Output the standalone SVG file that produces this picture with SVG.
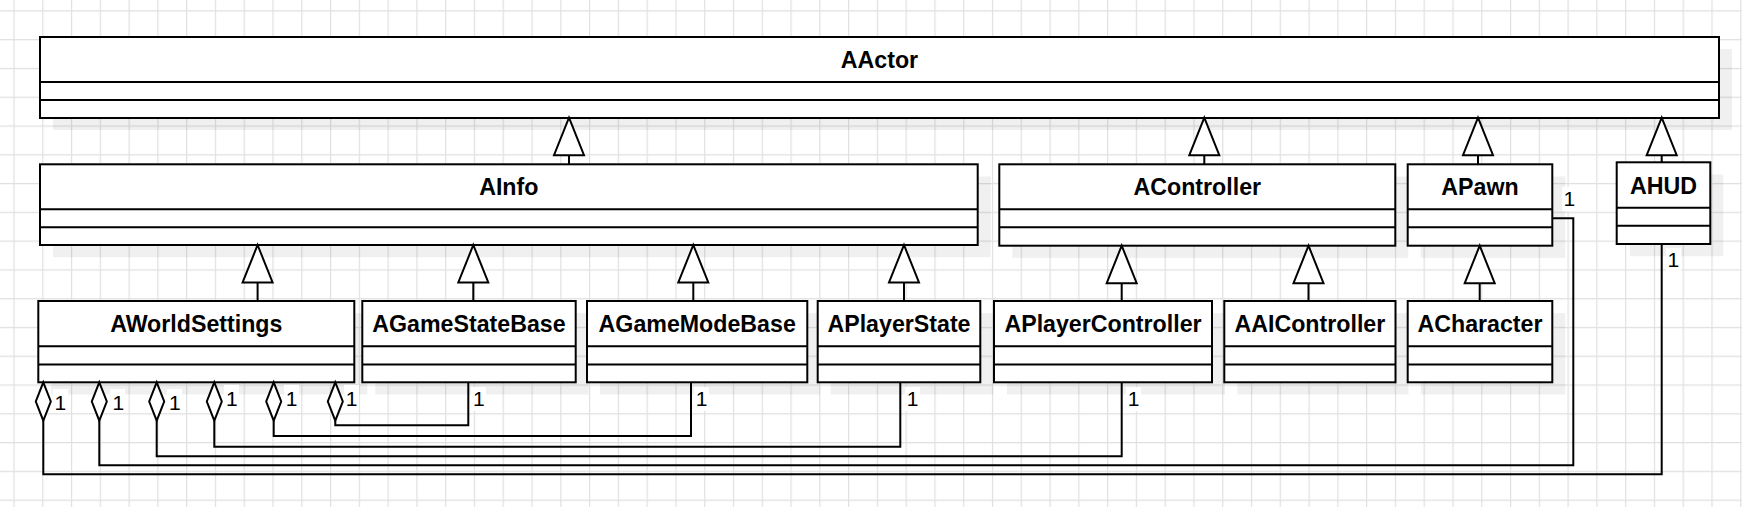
<svg xmlns="http://www.w3.org/2000/svg" xmlns:xlink="http://www.w3.org/1999/xlink" width="1742" height="507" viewBox="0 0 1742 507">
<defs>
<pattern id="grid" patternUnits="userSpaceOnUse" x="13.4" y="10.3" width="28.78" height="28.78">
<path d="M0,0 H28.78 M0,0 V28.78" fill="none" stroke="#e0e0e0" stroke-width="2.4"/>
</pattern>
<path id="tri" d="M0,0 L15,37.5 L-15,37.5 Z"/>
<path id="dia" d="M0,0 L7.5,19.2 L0,38.4 L-7.5,19.2 Z"/>
</defs>
<style>
.bg{fill:#fff}
.sh{fill:#000;fill-opacity:0.06}
.box{fill:#fff;stroke:#000;stroke-width:2}
.div{stroke:#000;stroke-width:2;fill:none}
.t{font-family:"Liberation Sans",Arial,Helvetica,sans-serif;font-weight:bold;font-size:23.2px;text-anchor:middle;fill:#000}
.edge{fill:none;stroke:#000;stroke-width:2}
.head{fill:#fff;stroke:#000;stroke-width:2}
.lbl{font-family:"Liberation Sans",Arial,Helvetica,sans-serif;font-size:21px;fill:#000}
.lb{fill:#fff}
</style>
<rect class="bg" x="0" y="0" width="1742" height="507"/>
<rect x="0" y="0" width="1742" height="507" fill="url(#grid)"/>

<g id="AActor">
<rect class="sh" x="53" y="49" width="1679" height="81"/>
<rect class="box" x="40" y="37" width="1679" height="81"/>
<path class="div" d="M40,82 H1719 M40,100 H1719"/>
<text class="t" x="879.5" y="67.5">AActor</text>
</g>

<g id="AInfo">
<rect class="sh" x="53" y="176.5" width="937.7" height="80.7"/>
<rect class="box" x="40" y="164.3" width="937.7" height="80.7"/>
<path class="div" d="M40,209.3 H977.7 M40,227.3 H977.7"/>
<text class="t" x="508.8" y="195.3">AInfo</text>
</g>

<g id="AController">
<rect class="sh" x="1012.3" y="176.5" width="396" height="81.4"/>
<rect class="box" x="999.3" y="164.3" width="396" height="81.4"/>
<path class="div" d="M999.3,209.3 H1395.3 M999.3,227.3 H1395.3"/>
<text class="t" x="1197.3" y="195.3">AController</text>
</g>

<g id="APawn">
<rect class="sh" x="1420.7" y="176.5" width="144.6" height="81.4"/>
<rect class="box" x="1407.7" y="164.3" width="144.6" height="81.4"/>
<path class="div" d="M1407.7,209.3 H1552.3 M1407.7,227.3 H1552.3"/>
<text class="t" x="1480" y="195.3">APawn</text>
</g>

<g id="AHUD">
<rect class="sh" x="1629.7" y="174.5" width="93.6" height="81.7"/>
<rect class="box" x="1616.7" y="162.3" width="93.6" height="81.7"/>
<path class="div" d="M1616.7,207.7 H1710.3 M1616.7,225.7 H1710.3"/>
<text class="t" x="1663.5" y="193.6">AHUD</text>
</g>

<g id="AWorldSettings">
<rect class="sh" x="51.3" y="313.2" width="316" height="81.3"/>
<rect class="box" x="38.3" y="301" width="316" height="81.3"/>
<path class="div" d="M38.3,346.3 H354.3 M38.3,364.5 H354.3"/>
<text class="t" x="196.3" y="332">AWorldSettings</text>
</g>

<g id="AGameStateBase">
<rect class="sh" x="375.3" y="313.2" width="213.4" height="81.3"/>
<rect class="box" x="362.3" y="301" width="213.4" height="81.3"/>
<path class="div" d="M362.3,346.3 H575.7 M362.3,364.5 H575.7"/>
<text class="t" x="469" y="332">AGameStateBase</text>
</g>

<g id="AGameModeBase">
<rect class="sh" x="600" y="313.2" width="220.3" height="81.3"/>
<rect class="box" x="587" y="301" width="220.3" height="81.3"/>
<path class="div" d="M587,346.3 H807.3 M587,364.5 H807.3"/>
<text class="t" x="697.2" y="332">AGameModeBase</text>
</g>

<g id="APlayerState">
<rect class="sh" x="830.7" y="313.2" width="162.6" height="81.3"/>
<rect class="box" x="817.7" y="301" width="162.6" height="81.3"/>
<path class="div" d="M817.7,346.3 H980.3 M817.7,364.5 H980.3"/>
<text class="t" x="899" y="332">APlayerState</text>
</g>

<g id="APlayerController">
<rect class="sh" x="1007" y="313.2" width="218" height="81.3"/>
<rect class="box" x="994" y="301" width="218" height="81.3"/>
<path class="div" d="M994,346.3 H1212 M994,364.5 H1212"/>
<text class="t" x="1103" y="332">APlayerController</text>
</g>

<g id="AAIController">
<rect class="sh" x="1237.3" y="313.2" width="171.2" height="81.3"/>
<rect class="box" x="1224.3" y="301" width="171.2" height="81.3"/>
<path class="div" d="M1224.3,346.3 H1395.5 M1224.3,364.5 H1395.5"/>
<text class="t" x="1309.9" y="332">AAIController</text>
</g>

<g id="ACharacter">
<rect class="sh" x="1420.7" y="313.2" width="144.6" height="81.3"/>
<rect class="box" x="1407.7" y="301" width="144.6" height="81.3"/>
<path class="div" d="M1407.7,346.3 H1552.3 M1407.7,364.5 H1552.3"/>
<text class="t" x="1480" y="332">ACharacter</text>
</g>

<g id="connectors">
<!-- inheritance -->
<path class="edge" d="M569,155 V164.3 M1204.3,155 V164.3 M1478,155 V164.3 M1661.7,155 V162.3"/>
<use href="#tri" class="head" x="569" y="117.7"/>
<use href="#tri" class="head" x="1204.3" y="117.7"/>
<use href="#tri" class="head" x="1478" y="117.7"/>
<use href="#tri" class="head" x="1661.7" y="117.7"/>
<path class="edge" d="M257.6,282.5 V301 M473.3,282.5 V301 M693.3,282.5 V301 M904,282.5 V301 M1121.7,283 V301 M1308.5,283 V301 M1479.7,283 V301"/>
<use href="#tri" class="head" x="257.6" y="245"/>
<use href="#tri" class="head" x="473.3" y="245"/>
<use href="#tri" class="head" x="693.3" y="245"/>
<use href="#tri" class="head" x="904" y="245"/>
<use href="#tri" class="head" x="1121.7" y="245.7"/>
<use href="#tri" class="head" x="1308.5" y="245.7"/>
<use href="#tri" class="head" x="1479.7" y="245.7"/>
<!-- aggregation -->
<path class="edge" d="M335.3,420.7 V425.3 H468.3 V382.3"/>
<path class="edge" d="M273.7,420.7 V436 H691 V382.3"/>
<path class="edge" d="M214.3,420.7 V446.7 H900.3 V382.3"/>
<path class="edge" d="M156.7,420.7 V456.3 H1121.7 V382.3"/>
<path class="edge" d="M99.3,420.7 V465.3 H1573.3 V218.3 H1552.3"/>
<path class="edge" d="M43.3,420.7 V474.3 H1661.7 V244"/>
<use href="#dia" class="head" x="43.3" y="382.3"/>
<use href="#dia" class="head" x="99.3" y="382.3"/>
<use href="#dia" class="head" x="156.7" y="382.3"/>
<use href="#dia" class="head" x="214.3" y="382.3"/>
<use href="#dia" class="head" x="273.7" y="382.3"/>
<use href="#dia" class="head" x="335.3" y="382.3"/>
<!-- multiplicity labels -->
<rect class="lb" x="53" y="389" width="15" height="24"/>
<text class="lbl" x="54.5" y="410">1</text>
<rect class="lb" x="110" y="389" width="15" height="24"/>
<text class="lbl" x="112.5" y="410">1</text>
<rect class="lb" x="167" y="389" width="15" height="24"/>
<text class="lbl" x="169" y="410">1</text>
<rect class="lb" x="224" y="385" width="15" height="24"/>
<text class="lbl" x="226" y="406">1</text>
<rect class="lb" x="284" y="385" width="15" height="24"/>
<text class="lbl" x="285.8" y="406">1</text>
<rect class="lb" x="344" y="385" width="15" height="24"/>
<text class="lbl" x="345.8" y="406">1</text>
<rect class="lb" x="471" y="387" width="15" height="24"/>
<text class="lbl" x="473" y="406">1</text>
<rect class="lb" x="694" y="387" width="15" height="24"/>
<text class="lbl" x="695.7" y="406">1</text>
<rect class="lb" x="905" y="387" width="15" height="24"/>
<text class="lbl" x="906.7" y="406">1</text>
<rect class="lb" x="1126" y="387" width="15" height="24"/>
<text class="lbl" x="1127.7" y="406">1</text>
<rect class="lb" x="1562" y="187" width="15" height="24"/>
<text class="lbl" x="1563.5" y="206">1</text>
<rect class="lb" x="1666" y="248" width="15" height="24"/>
<text class="lbl" x="1667.5" y="266.7">1</text>
</g>
</svg>
